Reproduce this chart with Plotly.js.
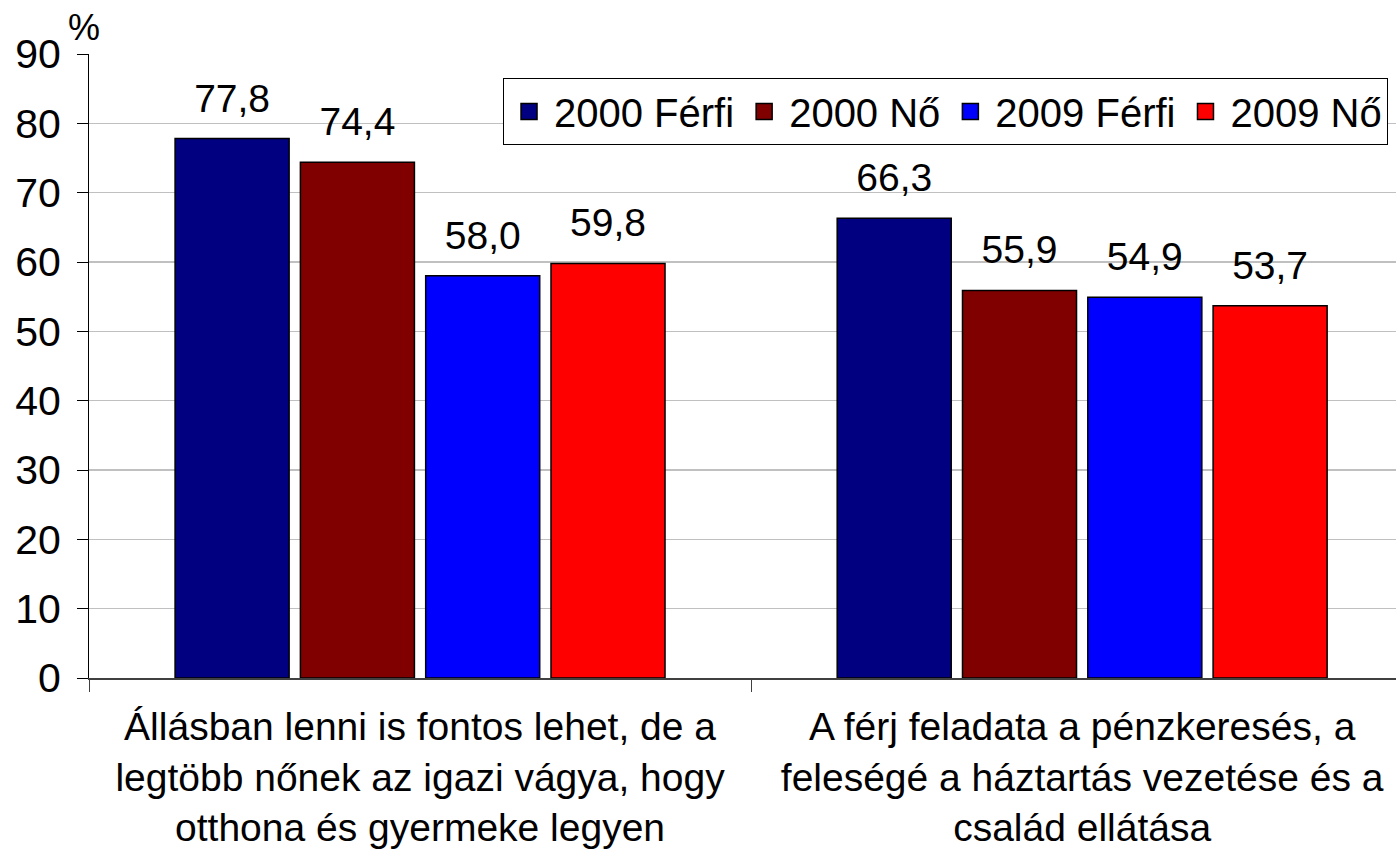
<!DOCTYPE html>
<html>
<head>
<meta charset="utf-8">
<script src="https://cdn.plot.ly/plotly-3.0.1.min.js"></script>
<style>html,body{margin:0;padding:0;background:#fff;}#chart{width:1396px;height:854px;}</style>
</head>
<body>
<div id="chart"></div>
<script>
const categories = [
  "Állásban lenni is fontos lehet, de a<br>legtöbb nőnek az igazi vágya, hogy<br>otthona és gyermeke legyen",
  "A férj feladata a pénzkeresés, a<br>feleségé a háztartás vezetése és a<br>család ellátása"
];
const seriesNames = ["2000 Férfi", "2000 Nő", "2009 Férfi", "2009 Nő"];
const s2000Ferfi = [77.8, 66.3];
const s2000No = [74.4, 55.9];
const s2009Ferfi = [58.0, 54.9];
const s2009No = [59.8, 53.7];
const yTicks = [0, 10, 20, 30, 40, 50, 60, 70, 80, 90];

const seriesValues = [s2000Ferfi, s2000No, s2009Ferfi, s2009No];
const colors = ["#000080", "#800000", "#0000ff", "#ff0000"];
const FONT = "Liberation Sans, Arial, sans-serif";

const traces = [];
seriesValues.forEach((vals, i) => {
  traces.push({
    type: "bar", x: categories, y: vals, name: seriesNames[i],
    offsetgroup: "g" + i, showlegend: false,
    marker: {color: colors[i], line: {color: "#000", width: 1.5}},
    hoverinfo: "skip"
  });
});
seriesValues.forEach((vals, i) => {
  traces.push({
    type: "scatter", mode: "markers+text", x: categories, y: vals,
    offsetgroup: "g" + i, showlegend: false,
    text: vals.map(v => v.toFixed(1).replace(".", ",")),
    textposition: "top center",
    textfont: {family: FONT, size: 39, color: "#000"},
    marker: {size: 26, opacity: 0},
    cliponaxis: false, hoverinfo: "skip"
  });
});
seriesValues.forEach((vals, i) => {
  traces.push({
    type: "scatter", mode: "markers", x: [null], y: [null], name: seriesNames[i],
    marker: {symbol: "square", size: 16, color: colors[i], line: {color: "#000", width: 1.5}},
    hoverinfo: "skip"
  });
});

const layout = {
  width: 1396, height: 854,
  margin: {l: 89, r: 0, t: 54, b: 176},
  paper_bgcolor: "#fff", plot_bgcolor: "#fff",
  font: {family: FONT, size: 40, color: "#000"},
  barmode: "group", bargap: 0.243, bargroupgap: 0.09,
  scattermode: "group", scattergap: 0.243,
  showlegend: true,
  legend: {
    orientation: "h", x: 0.9939, xanchor: "right", y: 0.9615, yanchor: "top",
    bgcolor: "#fff", bordercolor: "#000", borderwidth: 1,
    font: {family: FONT, size: 40, color: "#000"},
    itemwidth: 40,
    traceorder: "normal"
  },
  xaxis: {
    type: "category", range: [-0.5, 1.474], fixedrange: true,
    showline: true, linecolor: "#404040", linewidth: 2,
    ticks: "outside", tickson: "boundaries", ticklen: 12, tickcolor: "#404040", tickwidth: 1,
    tickfont: {family: FONT, size: 39, color: "#000"},
    ticklabelstandoff: 13,
    showgrid: false, zeroline: false
  },
  yaxis: {
    range: [0, 90], tickvals: yTicks, ticktext: yTicks.map(String),
    showline: true, linecolor: "#000", linewidth: 1,
    ticks: "outside", ticklen: 11, tickcolor: "#000",
    tickfont: {family: FONT, size: 41, color: "#000"},
    ticklabelstandoff: 8,
    showgrid: true, gridcolor: "#c0c0c0", gridwidth: 1.5,
    zeroline: false, fixedrange: true
  },
  annotations: [{
    text: "%", xref: "paper", yref: "paper", x: 0, y: 1, xanchor: "right", yanchor: "bottom",
    xshift: 13, yshift: 4, showarrow: false, font: {family: FONT, size: 36, color: "#000"}
  }]
};

Plotly.newPlot("chart", traces, layout, {displayModeBar: false, staticPlot: true});
</script>
</body>
</html>
